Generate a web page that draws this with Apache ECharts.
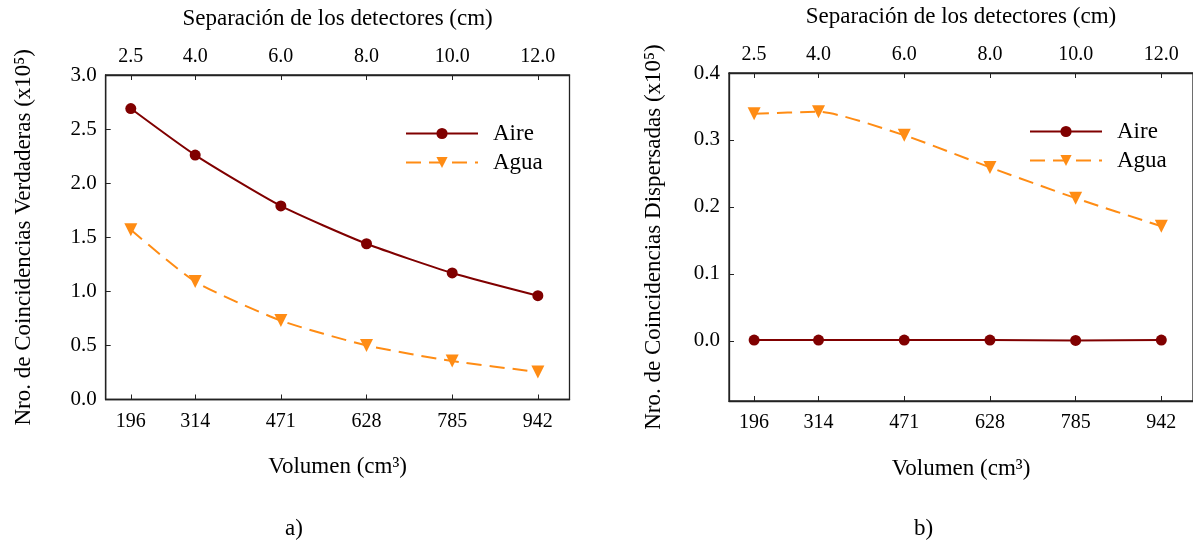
<!DOCTYPE html>
<html>
<head>
<meta charset="utf-8">
<script src="https://cdn.jsdelivr.net/npm/echarts@6/dist/echarts.min.js"></script>
<style>
	html, body { margin: 0; padding: 0; background: #fff; }
	#chart { width: 1193px; height: 548px; }
</style>
</head>
<body>
<div id="chart"></div>
<script>
'use strict';

// volumen (cm3) y separación de detectores (cm)
var volumen = [196, 314, 471, 628, 785, 942];
var separacion = ['2.5', '4.0', '6.0', '8.0', '10.0', '12.0'];

// a) coincidencias verdaderas (x10^5)
var verdAire = [2.69, 2.26, 1.79, 1.44, 1.17, 0.96];
var verdAgua = [1.57, 1.09, 0.73, 0.50, 0.355, 0.255];

// b) coincidencias dispersadas (x10^5)
var dispAire = [0.001, 0.001, 0.001, 0.001, 0.0005, 0.001];
var dispAgua = [0.339, 0.342, 0.307, 0.259, 0.213, 0.171];

var dispTicks = [0, 0.1, 0.2, 0.3, 0.4];

(function(){
	var FONT = 'Liberation Serif',
			INK = '#222',
			ROJO = '#800000',
			NARANJA = '#ff8c14';

	function pares(ys){
		return ys.map(function(y, i){ return [volumen[i], y]; });
	}

	function ejeX(grid, top){
		return {
			type: 'value',
			gridIndex: grid,
			position: top ? 'top' : 'bottom',
			min: 150,
			max: 1000,
			name: top ? 'Separación de los detectores (cm)' : 'Volumen (cm³)',
			nameLocation: 'middle',
			nameGap: top ? 45 : 56,
			nameTextStyle: { fontFamily: FONT, fontSize: 23, color: '#000' },
			axisLine: { onZero: false, lineStyle: { color: INK, width: 1.3 } },
			axisTick: { inside: true, length: 5, customValues: volumen, lineStyle: { color: INK } },
			axisLabel: {
				customValues: volumen,
				margin: top ? 8 : 12,
				fontFamily: FONT, fontSize: 20, color: '#000',
				formatter: function(v){
					var i = volumen.indexOf(v);
					return top ? separacion[i] : String(v);
				}
			},
			splitLine: { show: false }
		};
	}

	function ejeY(grid, opt){
		var eje = {
			type: 'value',
			gridIndex: grid,
			min: opt.min,
			max: opt.max,
			name: opt.name,
			nameLocation: 'middle',
			nameGap: opt.gap,
			nameTextStyle: { fontFamily: FONT, fontSize: 23, color: '#000' },
			axisLine: { show: true, onZero: false, lineStyle: { color: INK, width: 1.3 } },
			axisTick: { show: true, inside: true, length: 5, lineStyle: { color: INK } },
			axisLabel: {
				margin: 9,
				fontFamily: FONT, fontSize: 21, color: '#000',
				formatter: function(v){ return v.toFixed(1); }
			},
			splitLine: { show: false }
		};
		if(opt.interval){ eje.interval = opt.interval; }
		if(opt.ticks){
			eje.axisTick.customValues = opt.ticks;
			eje.axisLabel.customValues = opt.ticks;
		}
		return eje;
	}

	function serieAire(x, y, data){
		return {
			name: 'Aire', type: 'line', xAxisIndex: x, yAxisIndex: y,
			data: pares(data), smooth: 0.2,
			symbol: 'circle', symbolSize: 11,
			itemStyle: { color: ROJO },
			lineStyle: { color: ROJO, width: 2 },
			z: 3
		};
	}

	function serieAgua(x, y, data){
		return {
			name: 'Agua', type: 'line', xAxisIndex: x, yAxisIndex: y,
			data: pares(data), smooth: 0.2,
			symbol: 'triangle', symbolRotate: 180, symbolSize: 13,
			itemStyle: { color: NARANJA },
			lineStyle: { color: NARANJA, width: 2, type: [15, 8] },
			z: 2
		};
	}

	function leyenda(left, top){
		return {
			data: ['Aire', 'Agua'],
			orient: 'vertical',
			left: left, top: top,
			itemWidth: 72, itemHeight: 14, itemGap: 6,
			textStyle: { fontFamily: FONT, fontSize: 23, color: '#000', padding: [0, 0, 0, 10] }
		};
	}

	var option = {
		animation: false,
		backgroundColor: '#fff',
		title: [
			{ text: 'a)', left: 280, top: 512, textStyle: { fontFamily: FONT, fontSize: 23, fontWeight: 'normal', color: '#000' } },
			{ text: 'b)', left: 909, top: 512, textStyle: { fontFamily: FONT, fontSize: 23, fontWeight: 'normal', color: '#000' } }
		],
		legend: [ leyenda(400, 117), leyenda(1024, 115) ],
		grid: [
			{ left: 105.7, width: 463.8, top: 75, height: 324.5, show: true, borderColor: INK, borderWidth: 1.3 },
			{ left: 729, width: 464.5, top: 72, height: 329, show: true, borderColor: INK, borderWidth: 1.3 }
		],
		xAxis: [ ejeX(0, false), ejeX(0, true), ejeX(1, false), ejeX(1, true) ],
		yAxis: [
			ejeY(0, { min: 0, max: 3, interval: 0.5, gap: 70, name: 'Nro. de Coincidencias Verdaderas (x10⁵)' }),
			ejeY(1, { min: -0.09, max: 0.4, ticks: dispTicks, gap: 64, name: 'Nro. de Coincidencias Dispersadas (x10⁵)' })
		],
		series: [
			serieAire(0, 0, verdAire),
			serieAgua(0, 0, verdAgua),
			serieAire(2, 1, dispAire),
			serieAgua(2, 1, dispAgua)
		]
	};

	echarts.init(document.getElementById('chart')).setOption(option);
})();
</script>
</body>
</html>
